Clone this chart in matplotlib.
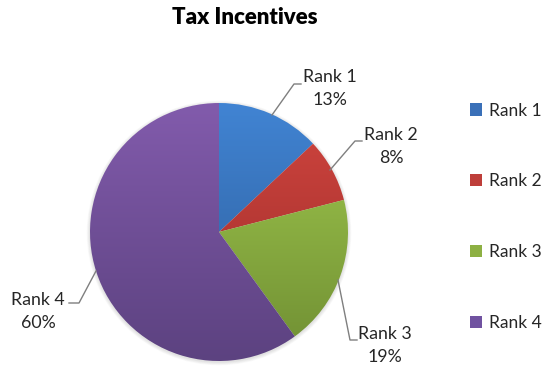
import numpy as np
import matplotlib.pyplot as plt
from matplotlib.colors import LinearSegmentedColormap
from matplotlib.patches import Patch

plt.rcParams['font.family'] = ['Lato', 'DejaVu Sans']

ranks = ["Rank 1", "Rank 2", "Rank 3", "Rank 4"]
shares = [13, 8, 19, 60]
# light (top) and dark (bottom) tones for each slice
tops = ["#4184D3", "#D1453F", "#A2CA4E", "#825BAC"]
bottoms = ["#2B5A96", "#9A2C29", "#6F8E33", "#5C4280"]
legend_colors = ["#3A70B8", "#BE3E3A", "#8DB043", "#7052A0"]

W, H = 544, 370
fig = plt.figure(figsize=(W / 100, H / 100), dpi=100)
ax = fig.add_axes([0, 0, 1, 1])

cx, cy, r = 219, H - 232, 129

# soft shadow behind the pie
for k in range(5):
    circ = plt.Circle((cx, cy - 1), r + 0.5 + k * 0.7, color='black',
                      alpha=0.025, lw=0, zorder=0)
    ax.add_patch(circ)

wedges, _ = ax.pie(shares, center=(cx, cy), radius=r, startangle=90,
                   counterclock=False, frame=True,
                   wedgeprops=dict(linewidth=0, facecolor='none'))
ax.set_xlim(0, W)
ax.set_ylim(0, H)
ax.set_aspect('equal')
ax.axis('off')

grad = np.linspace(1, 0, 256).reshape(-1, 1)
for w, c0, c1 in zip(wedges, tops, bottoms):
    cmap = LinearSegmentedColormap.from_list('g', [c1, c0])
    im = ax.imshow(grad, cmap=cmap, extent=(cx - r, cx + r, cy - r, cy + r),
                   origin='upper', aspect='auto', zorder=1, interpolation='bilinear')
    im.set_clip_path(w)

# leader lines and labels (image-style coords, y flipped)
line_kw = dict(color='#7F7F7F', lw=1.0, zorder=3)
leaders = [
    [(272, 115), (294, 84), (301, 84)],
    [(330, 170), (355, 141), (362, 141)],
    [(338, 280), (350, 340), (357, 340)],
    [(96, 271), (79, 303), (69, 303)],
]
label_pos = [(330, 77), (391, 135), (385, 334), (38, 300)]
for pts, (lx, ly), name, val in zip(leaders, label_pos, ranks, shares):
    xs = [p[0] for p in pts]
    ys = [H - p[1] for p in pts]
    ax.plot(xs, ys, **line_kw)
    ax.text(lx, H - ly, name, ha='center', va='center', fontsize=12.8,
            color='#262626')
    ax.text(lx, H - ly - 23, f"{val}%", ha='center', va='center',
            fontsize=12.8, color='#262626')

ax.text(245, H - 18, "Tax Incentives", ha='center', va='center',
        fontsize=16, fontweight='heavy', color='black')

handles = [Patch(facecolor=c, edgecolor='none') for c in legend_colors]
fig.legend(handles, ranks, loc='upper left', bbox_to_anchor=(454 / W, 1 - 87 / H),
           frameon=False, fontsize=12.5, labelspacing=3.15, handlelength=0.7,
           handleheight=0.7, handletextpad=0.4, labelcolor='#262626')

fig.savefig("out.png", dpi=100)
